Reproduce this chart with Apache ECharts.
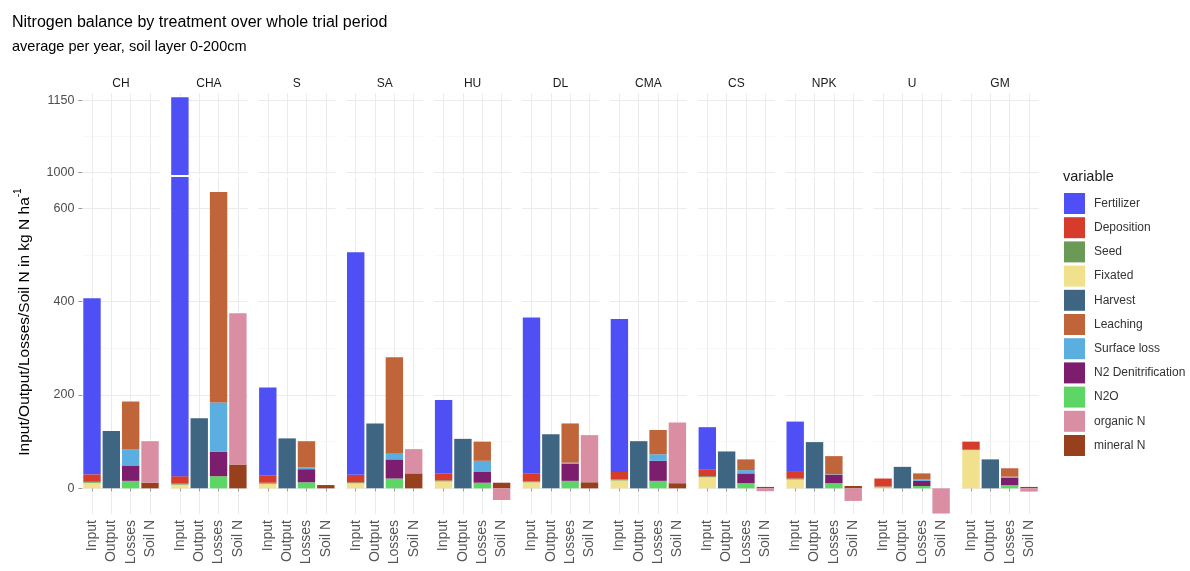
<!DOCTYPE html>
<html>
<head>
<meta charset="utf-8">
<script src="https://cdn.jsdelivr.net/npm/echarts@6/dist/echarts.min.js"></script>
<style>
  html, body { margin: 0; padding: 0; background: #ffffff; }
  #chart { width: 1190px; height: 571px; }
</style>
</head>
<body>
<div id="chart"></div>
<script>
// Treatments (facets) and the four bars drawn in each facet
const treatments = ['CH', 'CHA', 'S', 'SA', 'HU', 'DL', 'CMA', 'CS', 'NPK', 'U', 'GM'];
const barGroups = ['Input', 'Output', 'Losses', 'Soil N'];

// Legend order of the flux variables
const variables = ['Fertilizer', 'Deposition', 'Seed', 'Fixated', 'Harvest', 'Leaching',
  'Surface loss', 'N2 Denitrification', 'N2O', 'organic N', 'mineral N'];

// Input terms, kg N ha-1 per year
const fertilizer = [377, 1131, 188, 477, 158, 334, 328, 90, 106, 0, 0];
const deposition = [16, 16, 16, 16, 14, 17, 16, 15, 16, 17, 16];
const seed = [2, 2, 2, 2, 2, 2, 2, 2, 2, 2, 2];
const fixated = [12, 8, 10, 11, 15, 13, 17, 24, 19, 2, 82];

// Output term
const harvest = [123, 150, 107, 139, 106, 116, 101, 79, 99, 46, 62];

// Loss terms
const leaching = [102, 451, 56, 207, 41, 84, 52, 23, 39, 13, 18];
const surfaceLoss = [35, 106, 4, 12, 24, 2, 14, 7, 1, 3, 2];
const n2Denitrification = [33, 52, 28, 41, 23, 37, 43, 21, 18, 11, 16];
const n2o = [16, 26, 13, 21, 12, 16, 16, 11, 11, 5, 7];

// Change of soil N stocks
const organicN = [89, 324, 0, 52, -25, 101, 130, -6, -27, -54, -7];
const mineralN = [12, 51, 7, 32, 12, 13, 11, 3, 5, 0, 3];

// Axis ticks of the two parts of the broken y axis
const lowerTicks = [0, 200, 400, 600];
const lowerMinor = [100, 300, 500];
const upperTicks = [1000, 1150];
const upperMinor = [1075];

const colors = {
  'Fertilizer': '#4f4ff6',
  'Deposition': '#d63b2b',
  'Seed': '#6a9a56',
  'Fixated': '#f1e08c',
  'Harvest': '#3e6683',
  'Leaching': '#c0643a',
  'Surface loss': '#5aaee0',
  'N2 Denitrification': '#7c1d6e',
  'N2O': '#5dd666',
  'organic N': '#d98ea4',
  'mineral N': '#983f1d'
};

// Stacking order from the bottom of each bar upwards, with the bar each term belongs to
const stackParts = [
  ['Fixated', 0, fixated],
  ['Seed', 0, seed],
  ['Deposition', 0, deposition],
  ['Fertilizer', 0, fertilizer],
  ['Harvest', 1, harvest],
  ['N2O', 2, n2o],
  ['N2 Denitrification', 2, n2Denitrification],
  ['Surface loss', 2, surfaceLoss],
  ['Leaching', 2, leaching],
  ['mineral N', 3, mineralN],
  ['organic N', 3, organicN]
];

// Facet layout (pixels): each facet is 4.2 category units wide, bars fill 0.9 of a unit
const panelLeft = 80.4, panelPitch = 87.9, panelWidth = 81.2;
const unit = panelWidth / 4.2;
const upperTop = 93, upperHeight = 82;
const lowerTop = 177, lowerHeight = 337;
const lowerRange = [-55, 667];
const upperRange = [994, 1166];

const font = 'Liberation Sans, Arial, sans-serif';
const gridColor = '#ebebeb';
const minorColor = '#f3f3f3';
const textGrey = '#4d4d4d';

const grids = [], xAxes = [], yAxes = [], series = [];

function gridLines(major, minor) {
  const data = [];
  barGroups.forEach(c => data.push({ xAxis: c, lineStyle: { color: gridColor, width: 1 } }));
  major.forEach(v => data.push({ yAxis: v, lineStyle: { color: gridColor, width: 1 } }));
  minor.forEach(v => data.push({ yAxis: v, lineStyle: { color: minorColor, width: 0.6 } }));
  return {
    silent: true, symbol: 'none', z: 0, label: { show: false },
    emphasis: { disabled: true },
    lineStyle: { type: 'solid' },
    data: data
  };
}

treatments.forEach((t, i) => {
  const left = panelLeft + i * panelPitch + 0.1 * unit;
  ['upper', 'lower'].forEach(part => {
    const gi = grids.length;
    const isLower = part === 'lower';
    grids.push({
      left: left, width: 4 * unit,
      top: isLower ? lowerTop : upperTop,
      height: isLower ? lowerHeight : upperHeight,
      containLabel: false
    });
    xAxes.push({
      type: 'category', gridIndex: gi, data: barGroups,
      position: isLower ? 'bottom' : 'top',
      axisLine: { show: false },
      splitLine: { show: false },
      axisTick: isLower
        ? { show: true, alignWithLabel: true, length: 3, lineStyle: { color: '#9a9a9a' } }
        : { show: false },
      axisLabel: isLower
        ? { show: true, interval: 0, rotate: 90, margin: 6, fontSize: 14,
            color: '#555555', fontFamily: font }
        : { show: false },
      name: isLower ? '' : t,
      nameLocation: 'middle', nameGap: 3,
      nameTextStyle: { fontSize: 12, color: '#1a1a1a', fontFamily: font, verticalAlign: 'bottom' }
    });
    const ticks = isLower ? lowerTicks : upperTicks;
    const range = isLower ? lowerRange : upperRange;
    yAxes.push({
      type: 'value', gridIndex: gi, min: range[0], max: range[1],
      axisLine: { show: false },
      splitLine: { show: false },
      axisTick: i === 0
        ? { show: true, customValues: ticks, length: 4, lineStyle: { color: '#9a9a9a' } }
        : { show: false },
      axisLabel: i === 0
        ? { show: true, customValues: ticks, margin: 8, fontSize: 12.5, color: textGrey,
            fontFamily: font, formatter: v => String(v) }
        : { show: false }
    });
    stackParts.forEach(([name, groupIdx, values], k) => {
      const data = barGroups.map((g, b) => (b === groupIdx ? values[i] : 0));
      const s = {
        type: 'bar', name: name, stack: 'facet' + gi,
        xAxisIndex: gi, yAxisIndex: gi,
        barWidth: '90%', clip: true, z: 2,
        itemStyle: { color: colors[name] },
        emphasis: { disabled: true },
        data: data
      };
      if (k === 0) s.markLine = gridLines(ticks, isLower ? lowerMinor : upperMinor);
      series.push(s);
    });
  });
});

const chart = echarts.init(document.getElementById('chart'), null, { renderer: 'canvas' });
chart.setOption({
  animation: false,
  backgroundColor: '#ffffff',
  textStyle: { fontFamily: font },
  title: {
    text: 'Nitrogen balance by treatment over whole trial period',
    subtext: 'average per year, soil layer 0-200cm',
    left: 7, top: 10, itemGap: 8,
    textStyle: { fontSize: 16, fontWeight: 'normal', color: '#000000' },
    subtextStyle: { fontSize: 14.5, color: '#000000' }
  },
  legend: {
    orient: 'vertical', left: 1064, top: 193, padding: 0,
    data: variables, icon: 'rect',
    itemWidth: 21, itemHeight: 21, itemGap: 3.2,
    selectedMode: false,
    textStyle: { fontSize: 12, color: '#333333', padding: [0, 0, 0, 4] }
  },
  graphic: [
    {
      type: 'text', left: 1063, top: 169,
      style: { text: 'variable', fontSize: 14.5, fill: '#1a1a1a', fontFamily: font }
    },
    {
      type: 'text', x: 23, y: 322, rotation: Math.PI / 2,
      style: {
        text: '{a|Input/Output/Losses/Soil N in kg N ha}{s|-1}',
        align: 'center', verticalAlign: 'middle',
        rich: {
          a: { fontSize: 15.5, fill: '#000000', fontFamily: font, lineHeight: 19, verticalAlign: 'bottom' },
          s: { fontSize: 10, fill: '#000000', fontFamily: font, lineHeight: 19, verticalAlign: 'top' }
        }
      }
    }
  ],
  grid: grids,
  xAxis: xAxes,
  yAxis: yAxes,
  series: series
});
</script>
</body>
</html>
